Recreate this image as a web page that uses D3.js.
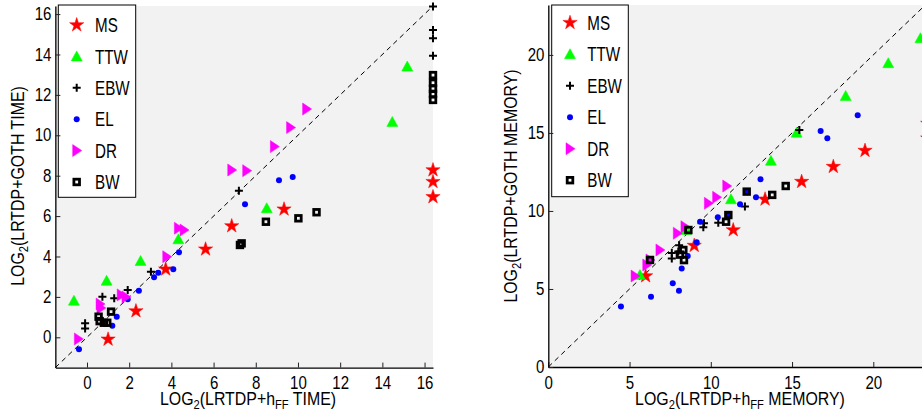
<!DOCTYPE html>
<html>
<head>
<meta charset="utf-8">
<script src="https://cdn.jsdelivr.net/npm/d3@7"></script>
<style>
  body { margin: 0; background: #fff; }
  svg { display: block; font-family: "Liberation Sans", Arial, sans-serif; }
</style>
</head>
<body>
<svg id="chart" width="922" height="417"></svg>
<script>
// series order as in the legend
const seriesNames = ["MS", "TTW", "EBW", "EL", "DR", "BW"];

// left panel: [LRTDP+hFF time, LRTDP+GOTH time] (log2)
const timeMS = [[1.0,-0.1],[2.32,1.3],[3.73,3.37],[5.62,4.36],[6.86,5.51],[9.34,6.34],[16.4,8.28],[16.4,7.7],[16.4,6.95]];
const timeTTW = [[-0.62,1.81],[0.93,2.8],[2.54,3.78],[4.33,4.85],[8.52,6.39],[14.47,10.66],[15.18,13.4]];
const timeEBW = [[-0.09,0.69],[-0.09,0.44],[0.73,2.01],[1.29,1.93],[1.93,2.34],[3.03,3.25],[7.2,7.26],[16.4,16.37],[16.4,15.21],[16.4,14.8],[16.4,13.94]];
const timeEL = [[-0.38,-0.59],[1.2,0.57],[1.41,1.02],[1.93,1.88],[2.46,2.31],[3.18,2.97],[3.38,3.2],[4.09,3.37],[4.36,4.21],[7.49,6.58],[9.1,7.77],[9.75,7.94]];
const timeDR = [[-0.41,-0.08],[0.62,1.65],[0.66,1.45],[1.62,2.1],[1.85,2.0],[3.78,3.99],[4.33,5.4],[4.6,5.31],[6.86,8.28],[7.57,8.25],[8.88,9.44],[9.65,10.38],[10.41,11.3]];
const timeBW = [[0.55,1.02],[0.6,0.8],[0.8,0.72],[0.96,0.72],[1.14,1.27],[7.25,4.57],[7.33,4.65],[8.48,5.72],[10.02,5.89],[10.88,6.19],[16.4,12.98],[16.4,12.6],[16.4,12.3],[16.4,12.05],[16.4,11.75]];

// right panel: [LRTDP+hFF memory, LRTDP+GOTH memory] (log2)
const memMS = [[5.99,5.83],[8.98,7.78],[11.38,8.78],[13.34,10.75],[15.59,11.88],[17.54,12.84],[19.49,13.87],[23.35,15.6],[23.35,14.66]];
const memTTW = [[5.64,5.9],[8.5,8.78],[11.24,10.75],[13.7,13.22],[15.28,15.02],[18.3,17.37],[20.92,19.47],[22.9,21.07]];
const memEBW = [[7.6,7.3],[7.6,6.95],[8.05,7.8],[8.0,7.4],[9.54,8.96],[9.58,9.21],[10.46,9.25],[12.1,10.28],[15.45,15.19]];
const memEL = [[4.47,3.87],[6.32,4.51],[7.66,5.36],[8.04,4.89],[8.21,6.32],[8.58,7.12],[9.13,7.99],[9.34,9.31],[10.43,9.59],[11.08,9.74],[11.8,10.43],[12.21,11.24],[12.78,10.88],[13.06,12.04],[16.76,15.13],[17.17,14.66],[19.04,16.13]];
const memDR = [[5.34,5.83],[6.06,6.54],[6.26,6.86],[6.87,7.5],[7.94,8.57],[8.41,8.99],[9.85,10.49],[10.36,10.88],[10.98,11.6]];
const memBW = [[6.26,6.86],[8.1,7.2],[8.31,7.5],[8.35,6.85],[8.62,8.78],[10.94,9.31],[11.08,9.74],[12.21,11.24],[13.78,11.03],[14.61,11.6]];

const timeTicks = [0, 2, 4, 6, 8, 10, 12, 14, 16];
const memTicks = [0, 5, 10, 15, 20];

const svg = d3.select("#chart");

function starPath(R) {
  const r = R * 0.382, pts = [];
  for (let i = 0; i < 10; i++) {
    const a = -Math.PI / 2 + i * Math.PI / 5;
    const rr = i % 2 ? r : R;
    pts.push([rr * Math.cos(a), rr * Math.sin(a)]);
  }
  return "M" + pts.join("L") + "Z";
}

// draw one marker of a series at the group origin
function marker(g, name) {
  if (name === "MS") {
    g.append("path").attr("d", starPath(7.5)).attr("fill", "#ff0000").attr("stroke", "#ff0000").attr("stroke-width", 0.5);
  } else if (name === "TTW") {
    g.append("path").attr("d", "M0,-5.5L5.5,4.5L-5.5,4.5Z").attr("fill", "#00ff00").attr("stroke", "#00ff00").attr("stroke-width", 0.5);
  } else if (name === "EBW") {
    g.append("path").attr("d", "M-4,0H4M0,-4V4").attr("stroke", "#000").attr("stroke-width", 2);
  } else if (name === "EL") {
    g.append("circle").attr("r", 3).attr("fill", "#0000ff");
  } else if (name === "DR") {
    g.append("path").attr("d", "M-4,-6L5,0L-4,6Z").attr("fill", "#ff00ff").attr("stroke", "#ff00ff").attr("stroke-width", 0.5);
  } else if (name === "BW") {
    g.append("rect").attr("x", -2.8).attr("y", -2.8).attr("width", 5.6).attr("height", 5.6)
      .attr("fill", "none").attr("stroke", "#000").attr("stroke-width", 2.8);
  }
}

// condensed text (the original figure is squeezed horizontally)
function squishText(parent, x, y, size, sx, rotate) {
  return parent.append("text")
    .attr("transform", `translate(${x},${y})${rotate ? " rotate(-90)" : ""} scale(${sx},1)`)
    .style("font-size", size + "px")
    .attr("fill", "#000");
}

function addLabel(t, parts) {
  parts.forEach(([s, sub]) => {
    const span = t.append("tspan").text(s);
    if (sub) span.style("font-size", "13px").attr("baseline-shift", "-30%");
  });
}

function panel(cfg) {
  const { x, y, series, ticks, legend } = cfg;
  const g = svg.append("g");
  const [x0, x1] = x.range(), [y0, y1] = y.range();

  g.append("rect").attr("x", x0).attr("y", y1).attr("width", x1 - x0).attr("height", y0 - y1).attr("fill", "#f2f2f2");

  const d = x.domain();
  g.append("line")
    .attr("x1", x(d[0])).attr("y1", y(d[0]))
    .attr("x2", x(d[1])).attr("y2", y(d[1]))
    .attr("stroke", "#000").attr("stroke-width", 1).attr("stroke-dasharray", "5,4");

  seriesNames.forEach((name, i) => {
    g.append("g").selectAll("g")
      .data(series[i])
      .join("g")
      .attr("transform", (p) => `translate(${x(p[0])},${y(p[1])})`)
      .each(function () { marker(d3.select(this), name); });
  });

  // legend
  g.append("rect")
    .attr("x", legend.x0).attr("y", 5).attr("width", legend.x1 - legend.x0).attr("height", legend.y1 - 5)
    .attr("fill", "#fff").attr("stroke", "#000").attr("stroke-width", 1);
  seriesNames.forEach((name, i) => {
    const cy = legend.top + i * legend.step;
    marker(g.append("g").attr("transform", `translate(${legend.mx},${cy})`), name);
    squishText(g, legend.tx, cy + 7.2, 20, 0.76).text(name);
  });

  // axes with inward ticks
  const ax = g.append("g").attr("transform", `translate(0,${y0})`)
    .call(d3.axisBottom(x).tickValues(ticks).tickSizeInner(-5).tickSizeOuter(0).tickPadding(9.3).tickFormat(d3.format("d")));
  const ay = g.append("g").attr("transform", `translate(${x0},0)`)
    .call(d3.axisLeft(y).tickValues(ticks).tickSizeInner(-5).tickSizeOuter(0).tickPadding(4.5).tickFormat(d3.format("d")));
  [ax, ay].forEach((a) => {
    a.select(".domain").attr("stroke", "#000").attr("stroke-width", 1.3);
    a.selectAll(".tick line").attr("stroke", "#222");
    a.selectAll("text")
      .attr("fill", "#000")
      .style("font-size", "17.5px")
      .style("font-family", '"Liberation Sans", Arial, sans-serif')
      .attr("transform", "scale(0.86,1)");
  });

  addLabel(squishText(g, cfg.xlab[0], 405, 18.5, 0.86).attr("text-anchor", "middle"), cfg.xlab[1]);
  addLabel(squishText(g, cfg.ylab[0], 186, 18.5, 0.86, true).attr("text-anchor", "middle"), cfg.ylab[1]);
}

panel({
  x: d3.scaleLinear().domain([-1.5, 16.4]).range([55.35, 433]),
  y: d3.scaleLinear().domain([-1.5, 16.4]).range([367.6, 6]),
  series: [timeMS, timeTTW, timeEBW, timeEL, timeDR, timeBW],
  ticks: timeTicks,
  legend: { x0: 58.3, x1: 135.7, y1: 197.3, top: 25, step: 31.4, mx: 76.7, tx: 95 },
  xlab: [248, [["LOG"], ["2", true], ["(LRTDP+h"], ["FF", true], [" TIME)"]]],
  ylab: [24, [["LOG"], ["2", true], ["(LRTDP+GOTH TIME)"]]]
});

panel({
  x: d3.scaleLinear().domain([0, 23.2]).range([548.3, 925.3]),
  y: d3.scaleLinear().domain([0, 23.2]).range([367, 5]),
  series: [memMS, memTTW, memEBW, memEL, memDR, memBW],
  ticks: memTicks,
  legend: { x0: 551.7, x1: 628.3, y1: 196.7, top: 22.7, step: 31.5, mx: 570, tx: 587.3 },
  xlab: [740, [["LOG"], ["2", true], ["(LRTDP+h"], ["FF", true], [" MEMORY)"]]],
  ylab: [517, [["LOG"], ["2", true], ["(LRTDP+GOTH MEMORY)"]]]
});
</script>
</body>
</html>
